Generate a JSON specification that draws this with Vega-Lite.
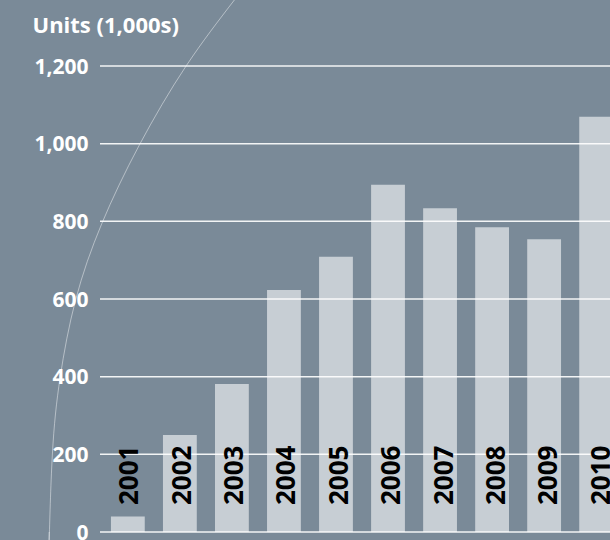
{
  "$schema": "https://vega.github.io/schema/vega-lite/v6.json",
  "autosize": "none",
  "width": 524,
  "height": 466,
  "padding": {"left": 100, "top": 66, "right": 0, "bottom": 10},
  "background": "#7a8a98",
  "config": {"view": {"stroke": null}, "font": "Open Sans"},
  "datasets": {
    "units": [
      {"year": "2001", "value": 40},
      {"year": "2002", "value": 250},
      {"year": "2003", "value": 381},
      {"year": "2004", "value": 623},
      {"year": "2005", "value": 709},
      {"year": "2006", "value": 894},
      {"year": "2007", "value": 834},
      {"year": "2008", "value": 785},
      {"year": "2009", "value": 754},
      {"year": "2010", "value": 1069}
    ],
    "grid": [
      {"tick": 0}, {"tick": 200}, {"tick": 400}, {"tick": 600}, {"tick": 800}, {"tick": 1000}, {"tick": 1200}
    ],
    "arc": [
      {"pos": 2003.06, "level": 1372},
      {"pos": 2002.12, "level": 1200},
      {"pos": 2001.22, "level": 996},
      {"pos": 2000.50, "level": 794},
      {"pos": 2000.00, "level": 599},
      {"pos": 1999.70, "level": 398},
      {"pos": 1999.55, "level": 198},
      {"pos": 1999.49, "level": 0},
      {"pos": 1999.49, "level": -20}
    ]
  },
  "layer": [
    {
      "data": {"name": "arc"},
      "mark": {"type": "line", "interpolate": "natural", "stroke": "#ffffff", "strokeOpacity": 0.45, "strokeWidth": 1, "clip": false},
      "encoding": {
        "x": {"field": "pos", "type": "quantitative", "scale": {"domain": [2000.466, 2010.535], "nice": false, "zero": false}, "axis": null},
        "y": {"field": "level", "type": "quantitative"},
        "order": {"value": 0}
      }
    },
    {
      "data": {"name": "units"},
      "mark": {"type": "bar", "fill": "#c7ced4"},
      "encoding": {
        "x": {"field": "year", "type": "nominal", "scale": {"paddingInner": 0.35, "paddingOuter": 0.21}, "axis": null},
        "y": {
          "field": "value", "type": "quantitative",
          "scale": {"domain": [0, 1200], "nice": false},
          "axis": {
            "values": [0, 200, 400, 600, 800, 1000, 1200],
            "format": ",d",
            "grid": false,
            "ticks": false, "domain": false,
            "labelFont": "Open Sans", "labelFontSize": 21, "labelFontWeight": "bold", "labelColor": "#ffffff",
            "labelPadding": 12, "labelOffset": 1,
            "title": "Units (1,000s)", "titleFont": "Open Sans", "titleFontSize": 22, "titleFontWeight": "bold", "titleColor": "#ffffff",
            "titleAngle": 0, "titleAlign": "left", "titleBaseline": "alphabetic", "titleX": -68, "titleY": -34
          }
        }
      }
    },
    {
      "data": {"name": "grid"},
      "mark": {"type": "rule", "stroke": "#ffffff", "strokeWidth": 1.5, "strokeOpacity": 0.9},
      "encoding": {
        "y": {"field": "tick", "type": "quantitative"}
      }
    },
    {
      "data": {"name": "units"},
      "mark": {"type": "text", "angle": 270, "align": "left", "baseline": "middle", "dx": 27, "dy": 4, "font": "Open Sans", "fontSize": 26, "fontWeight": "bold", "color": "#000000"},
      "encoding": {
        "x": {"field": "year", "type": "nominal", "scale": {"paddingInner": 0.35, "paddingOuter": 0.21}, "axis": null},
        "y": {"datum": 0, "type": "quantitative"},
        "text": {"field": "year"}
      }
    }
  ],
  "resolve": {"scale": {"x": "independent"}}
}
